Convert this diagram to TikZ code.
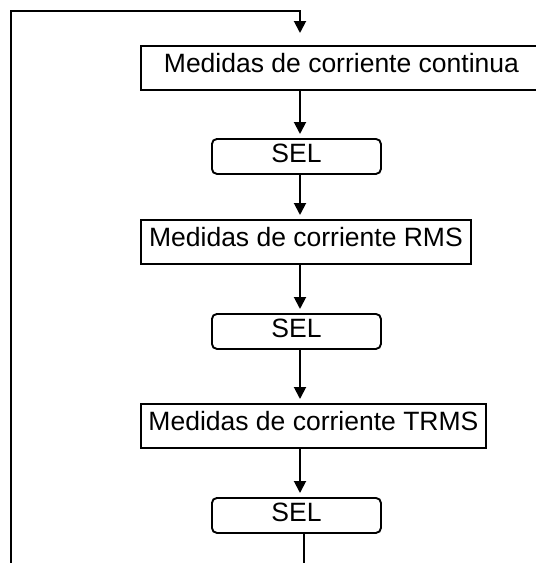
\documentclass[tikz,border=0pt]{standalone}
\usepackage{fontspec}
\setmainfont{Liberation Sans}
\usetikzlibrary{arrows.meta}

\begin{document}
\begin{tikzpicture}[x=1pt, y=-1pt, line width=1.9pt,
    every node/.style={font=\fontsize{26.5}{30}\selectfont, inner xsep=0pt, inner ysep=0pt},
    medbox/.style={draw, rectangle, anchor=north west, minimum height=44pt, text height=27pt, text depth=17pt},
    selbox/.style={draw, rectangle, rounded corners=5pt, anchor=north west, minimum width=169pt, minimum height=35pt, text height=24pt, text depth=11pt},
    flow/.style={-{Triangle[length=12pt, width=12pt]}, shorten >=4pt}]
        \clip (0,0) rectangle (536,563);
        \node[medbox, minimum width=401pt] (cont) at (140,45) {Medidas de corriente continua};
        \node[selbox] (sel1) at (211,138) {SEL};
        \node[medbox, minimum width=330pt] (rms) at (140,219) {Medidas de corriente RMS};
        \node[selbox] (sel2) at (211,313) {SEL};
        \node[medbox, minimum width=345pt] (trms) at (140,403) {Medidas de corriente TRMS};
        \node[selbox] (sel3) at (211,497) {SEL};
        \coordinate (corner) at (11,11);
        \coordinate (spine) at (300,11);
        \coordinate (loopend) at (11,570);
        \coordinate (exit) at (304,570);
        \draw[flow, shorten >=12pt] (loopend) -- (corner) -- (spine) -- (cont.north -| spine);
        \draw[flow] (cont.south -| spine) -- (sel1.north -| spine);
        \draw[flow] (sel1.south -| spine) -- (rms.north -| spine);
        \draw[flow] (rms.south -| spine) -- (sel2.north -| spine);
        \draw[flow] (sel2.south -| spine) -- (trms.north -| spine);
        \draw[flow] (trms.south -| spine) -- (sel3.north -| spine);
        \draw (sel3.south -| exit) -- (exit);
      \end{tikzpicture}
\end{document}
